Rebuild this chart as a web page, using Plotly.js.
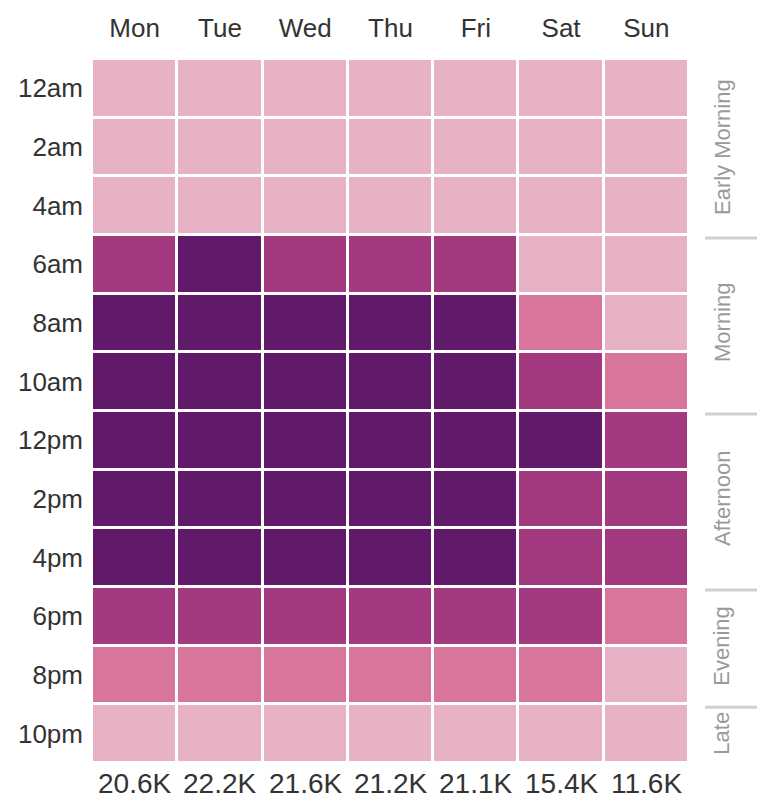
<!DOCTYPE html>
<html>
<head>
<meta charset="utf-8">
<script src="https://cdn.plot.ly/plotly-3.0.1.min.js"></script>
<style>html,body{margin:0;padding:0;background:#fff;}#chart{width:767px;height:808px;}</style>
</head>
<body>
<div id="chart"></div>
<script>
// Data
const days = ["Mon", "Tue", "Wed", "Thu", "Fri", "Sat", "Sun"];
const hours = ["12am", "2am", "4am", "6am", "8am", "10am", "12pm", "2pm", "4pm", "6pm", "8pm", "10pm"];
// intensity level (0 = lowest, 3 = highest) per hour row, per day column
const levels = [
  [0, 0, 0, 0, 0, 0, 0],
  [0, 0, 0, 0, 0, 0, 0],
  [0, 0, 0, 0, 0, 0, 0],
  [2, 3, 2, 2, 2, 0, 0],
  [3, 3, 3, 3, 3, 1, 0],
  [3, 3, 3, 3, 3, 2, 1],
  [3, 3, 3, 3, 3, 3, 2],
  [3, 3, 3, 3, 3, 2, 2],
  [3, 3, 3, 3, 3, 2, 2],
  [2, 2, 2, 2, 2, 2, 1],
  [1, 1, 1, 1, 1, 1, 0],
  [0, 0, 0, 0, 0, 0, 0]
];
const totals = ["20.6K", "22.2K", "21.6K", "21.2K", "21.1K", "15.4K", "11.6K"];
const groupNames = ["Early Morning", "Morning", "Afternoon", "Evening", "Late"];
const groupStart = [0, 3, 6, 9, 11];
const groupEnd = [2, 5, 8, 10, 11];
const levelColors = ["#e7b1c6", "#d7759d", "#a33a7f", "#611a6a"];

const font = "Liberation Sans, Arial, sans-serif";

const colorscale = [];
levelColors.forEach((c, i) => {
  colorscale.push([i / 4, c]);
  colorscale.push([(i + 1) / 4, c]);
});

const trace = {
  type: "heatmap",
  x: days,
  y: hours,
  z: levels,
  zmin: 0,
  zmax: 4,
  colorscale: colorscale,
  showscale: false,
  xgap: 3,
  ygap: 3,
  hoverinfo: "x+y+z"
};

const annotations = [];
days.forEach((d, i) => {
  annotations.push({
    x: d, xref: "x", y: 0, yref: "paper", yanchor: "top", yshift: -3,
    text: totals[i], showarrow: false,
    font: {family: font, size: 28, color: "#333"}
  });
});
const shapes = [];
groupNames.forEach((g, i) => {
  annotations.push({
    x: 1, xref: "paper", xshift: 33, xanchor: "center",
    y: (groupStart[i] + groupEnd[i]) / 2, yref: "y", yanchor: "middle",
    text: g, textangle: -90, showarrow: false,
    font: {family: font, size: 22, color: "#9a9a9a"}
  });
  if (i > 0) {
    shapes.push({
      type: "line", xref: "paper", yref: "y",
      x0: (705 - 92) / 597, x1: (757 - 92) / 597,
      y0: groupStart[i] - 0.45, y1: groupStart[i] - 0.45,
      line: {color: "#d0d0d0", width: 3}
    });
  }
});

const layout = {
  width: 767,
  height: 808,
  margin: {l: 92, r: 78, t: 59, b: 45},
  paper_bgcolor: "#fff",
  plot_bgcolor: "#fff",
  xaxis: {
    side: "top", type: "category", showgrid: false, zeroline: false, showline: false,
    ticks: "", ticklen: 0, ticklabelstandoff: 16,
    tickfont: {family: font, size: 26, color: "#333"}
  },
  yaxis: {
    type: "category", autorange: "reversed", showgrid: false, zeroline: false, showline: false,
    ticks: "", ticklen: 0, ticklabelstandoff: 8,
    tickfont: {family: font, size: 26, color: "#333"}
  },
  annotations: annotations,
  shapes: shapes,
  showlegend: false
};

Plotly.newPlot("chart", [trace], layout, {displayModeBar: false, staticPlot: true});
</script>
</body>
</html>
